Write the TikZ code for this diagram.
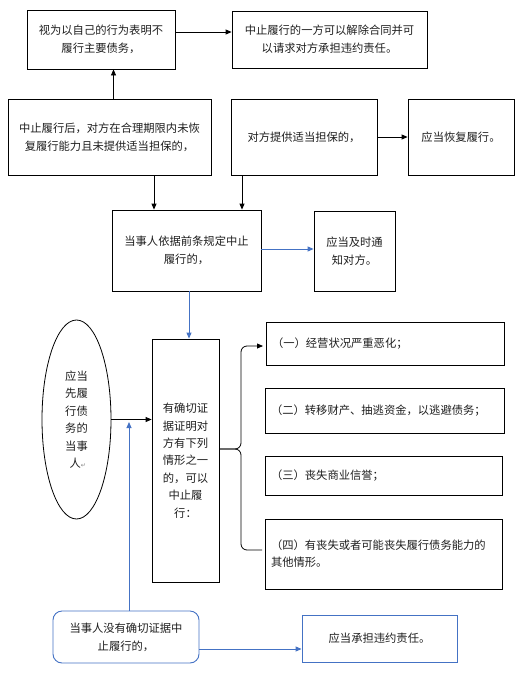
\documentclass[tikz,border=0pt]{standalone}
\usepackage{fontspec}
\setmainfont{Noto Sans CJK SC}
\newfontfamily\symfont{DejaVu Sans}
\usetikzlibrary{arrows.meta,shapes.geometric}
\definecolor{lineblue}{RGB}{68,114,196}
\definecolor{txt}{RGB}{30,30,30}
\begin{document}
\begin{tikzpicture}[x=1pt,y=-1pt,
  every node/.style={font=\fontsize{11.3}{18}\selectfont, text=txt},
  bx/.style={draw=black, line width=0.8pt, inner sep=0pt, align=center, minimum width=#1},
  bx/.default=100pt,
  lbx/.style={draw=black, line width=0.8pt, inner ysep=0pt, inner xsep=6pt, align=left, text width=#1},
  bluebx/.style={draw=lineblue, line width=0.9pt, inner sep=0pt, align=center},
  arr/.style={-{Triangle[length=6pt,width=5pt]}, line width=0.8pt, black},
  barr/.style={-{Triangle[length=6pt,width=5pt]}, line width=0.9pt, lineblue},
]
\useasboundingbox (0,0) rectangle (522,673);

% top row
\node[bx=148pt, minimum height=59pt] (A) at (101,39.5) {视为以自己的行为表明不\\履行主要债务，};
\node[bx=195pt, minimum height=57pt] (B) at (329.5,39.5) {中止履行的一方可以解除合同并可\\以请求对方承担违约责任。};

% second row
\node[bx=203pt, minimum height=76pt] (C) at (109.5,137) {中止履行后，对方在合理期限内未恢\\复履行能力且未提供适当担保的，};
\node[bx=146pt, minimum height=76pt] (D) at (304,137) {对方提供适当担保的，};
\node[bx=106pt, minimum height=76pt] (E) at (461,137) {应当恢复履行。};

% third row
\node[bx=149pt, minimum height=81pt] (F) at (186.5,250.5) {当事人依据前条规定中止\\履行的，};
\node[bx=81pt, minimum height=80pt] (G) at (354.5,251) {应当及时通\\知对方。};

% ellipse and main box
\node[draw=black, line width=0.8pt, ellipse, minimum width=69pt, minimum height=199pt, inner sep=0pt, align=center, font=\fontsize{11.3}{17.5}\selectfont] (el) at (76.5,419.5) {应当\\先履\\行债\\务的\\当事\\\ 人{\symfont\fontsize{6}{6}\selectfont\color{gray}↵}};
\node[bx=67pt, minimum height=243pt, font=\fontsize{11.3}{17.4}\selectfont] (H) at (185.5,460.5) {有确切证\\据证明对\\方有下列\\情形之一\\的，可以\\中止履\\行：};

% right list boxes
\node[lbx=226pt, minimum height=43pt] (L1) at (385,343.5) {（一）经营状况严重恶化；};
\node[lbx=227pt, minimum height=45pt] (L2) at (384.5,410.5) {（二）转移财产、抽逃资金，以逃避债务；};
\node[lbx=225pt, minimum height=39pt] (L3) at (383.5,475.5) {（三）丧失商业信誉；};
\node[lbx=225pt, minimum height=70pt, font=\fontsize{11.3}{17}\selectfont] (L4) at (383.5,554) {（四）有丧失或者可能丧失履行债务能力的\\其他情形。};

% bottom row
\node[bluebx, rounded corners=9pt, minimum width=146pt, minimum height=52pt] (I) at (126,637) {当事人没有确切证据中\\止履行的，};
\node[bluebx, minimum width=155pt, minimum height=47pt] (J) at (379.5,638.5) {应当承担违约责任。};

% connectors
\draw[arr] ([yshift=7.5pt]A.east) -- ([yshift=7.5pt]A.east -| B.west);
\draw[arr] ([xshift=4pt]C.north) -- ([xshift=4pt]C.north |- A.south);
\draw[arr] ([xshift=44.5pt]C.south) -- ([xshift=44.5pt]C.south |- F.north);
\draw[arr] ([xshift=-62pt]D.south) -- ([xshift=-62pt]D.south |- F.north);
\draw[arr] (D.east) -- (D.east -| E.west);
\draw[barr] ([yshift=1.5pt]F.east) -- ([yshift=1.5pt]F.east -| G.west);
\draw[barr] ([xshift=2.5pt]F.south) -- ([xshift=2.5pt]F.south |- H.north);
\draw[arr] (el.east) -- (el.east -| H.west);
\coordinate (iu) at (129,422);
\draw[barr] (I.north -| iu) -- (iu);
\draw[barr] ([yshift=-12pt]I.east) -- ([yshift=-12pt]I.east -| J.west);

% brace
\coordinate (bmid) at (241,449);
\coordinate (btop) at (263,346);
\coordinate (bbot) at (262,550);
\draw[arr, rounded corners=6pt] ([yshift=11.5pt]H.east) -- (bmid) -- (bmid |- btop) -- (btop);
\draw[line width=0.8pt, rounded corners=6pt] ([yshift=11.5pt]H.east) -- (bmid) -- (bmid |- bbot) -- (bbot);
\end{tikzpicture}
\end{document}
